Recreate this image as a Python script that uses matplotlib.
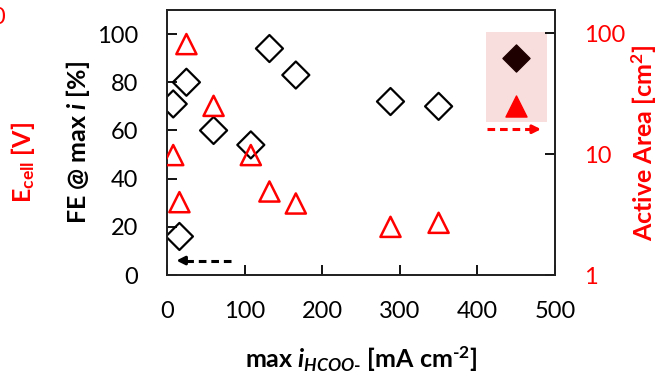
import matplotlib
matplotlib.use("Agg")
import matplotlib.pyplot as plt
from matplotlib.patches import Rectangle

plt.rcParams['font.family'] = ['Lato', 'DejaVu Sans']
plt.rcParams['mathtext.fontset'] = 'custom'
plt.rcParams['mathtext.it'] = 'Lato:italic:bold'
plt.rcParams['mathtext.rm'] = 'Lato:bold'
plt.rcParams['mathtext.bf'] = 'Lato:bold'

# FE at max current (left axis)
fe_i = [8, 16, 25, 60, 108, 132, 166, 288, 350]
fe_val = [71, 16, 80, 60, 54, 94, 83, 72, 70]

# active area (right axis, log)
area_i = [8, 16, 25, 60, 108, 132, 166, 288, 350]
area_val = [9.8, 4.0, 81, 25, 9.8, 4.9, 3.9, 2.5, 2.7]

# key markers inside the shaded box
key_x = [450, 450]
key_y = [90, 70]

red = '#ff0000'

fig = plt.figure(figsize=(6.63, 3.74), dpi=100)
ax = fig.add_axes([0.2519, 0.2647, 0.5852, 0.7086])
ax2 = ax.twinx()

ax.scatter(fe_i, fe_val, marker='D', s=190, facecolors='none',
           edgecolors='black', linewidths=1.6, zorder=3)
ax2.scatter(area_i, area_val, marker='^', s=210, facecolors='none',
            edgecolors=red, linewidths=1.8, zorder=3)

# shaded key box
ax.add_patch(Rectangle((411, 63.6), 79, 37.4, facecolor='#f9dede',
                       edgecolor='none', zorder=1))
ax.scatter(key_x[:1], key_y[:1], marker='D', s=190, color='#1e0000', zorder=4)
ax.scatter(key_x[1:], key_y[1:], marker='^', s=230, color=red, zorder=4)

# dashed arrows
ax.plot([412, 472], [60.5, 60.5], color=red, ls=(0, (2.5, 1.6)), lw=2.2)
ax.annotate('', xy=(482, 60.5), xytext=(470, 60.5),
            arrowprops=dict(arrowstyle='-|>', color=red, lw=2.2,
                            mutation_scale=12, shrinkA=0, shrinkB=0))
ax.plot([82, 22], [6, 6], color='black', ls=(0, (2.5, 1.6)), lw=2.2)
ax.annotate('', xy=(12, 6), xytext=(24, 6),
            arrowprops=dict(arrowstyle='-|>', color='black', lw=2.2,
                            mutation_scale=12, shrinkA=0, shrinkB=0))

ax.set_xlim(0, 500)
ax.set_ylim(0, 110)
ax.set_xticks(range(0, 501, 100))
ax.set_yticks(range(0, 101, 20))
ax2.set_yscale('log')
ax2.set_ylim(1, 155)
ax2.set_yticks([1, 10, 100])
ax2.set_yticklabels(['1', '10', '100'])
ax2.minorticks_off()

for a in (ax, ax2):
    for sp in a.spines.values():
        sp.set_linewidth(1.3)
        sp.set_color('#222222')
ax.tick_params(direction='in', length=7, width=1.3, labelsize=17, pad=21)
ax.tick_params(axis='x', pad=19)
ax2.tick_params(direction='in', length=7, width=1.3, labelsize=17, pad=21,
                labelcolor=red)

ax.set_xlabel(r'max $i_{HCOO\text{-}}$ [mA cm$^{\text{-2}}$]', fontsize=18,
              fontweight='bold', labelpad=16)
ax.set_ylabel(r'FE @ max $i$ [%]', fontsize=18, fontweight='bold', labelpad=3)
ax2.set_ylabel(r'Active Area [cm$^{\text{2}}$]', fontsize=18,
               fontweight='bold', color=red, labelpad=3)

fig.text(23 / 663, 1 - 163 / 374, r'$\mathregular{E_{cell}}$ [V]', rotation=90,
         fontsize=18, fontweight='bold', color=red, ha='center', va='center')
fig.text(5 / 663, 1 - 17 / 374, '0', fontsize=17, color=red, ha='right',
         va='center')

fig.savefig('out.png', dpi=100)
